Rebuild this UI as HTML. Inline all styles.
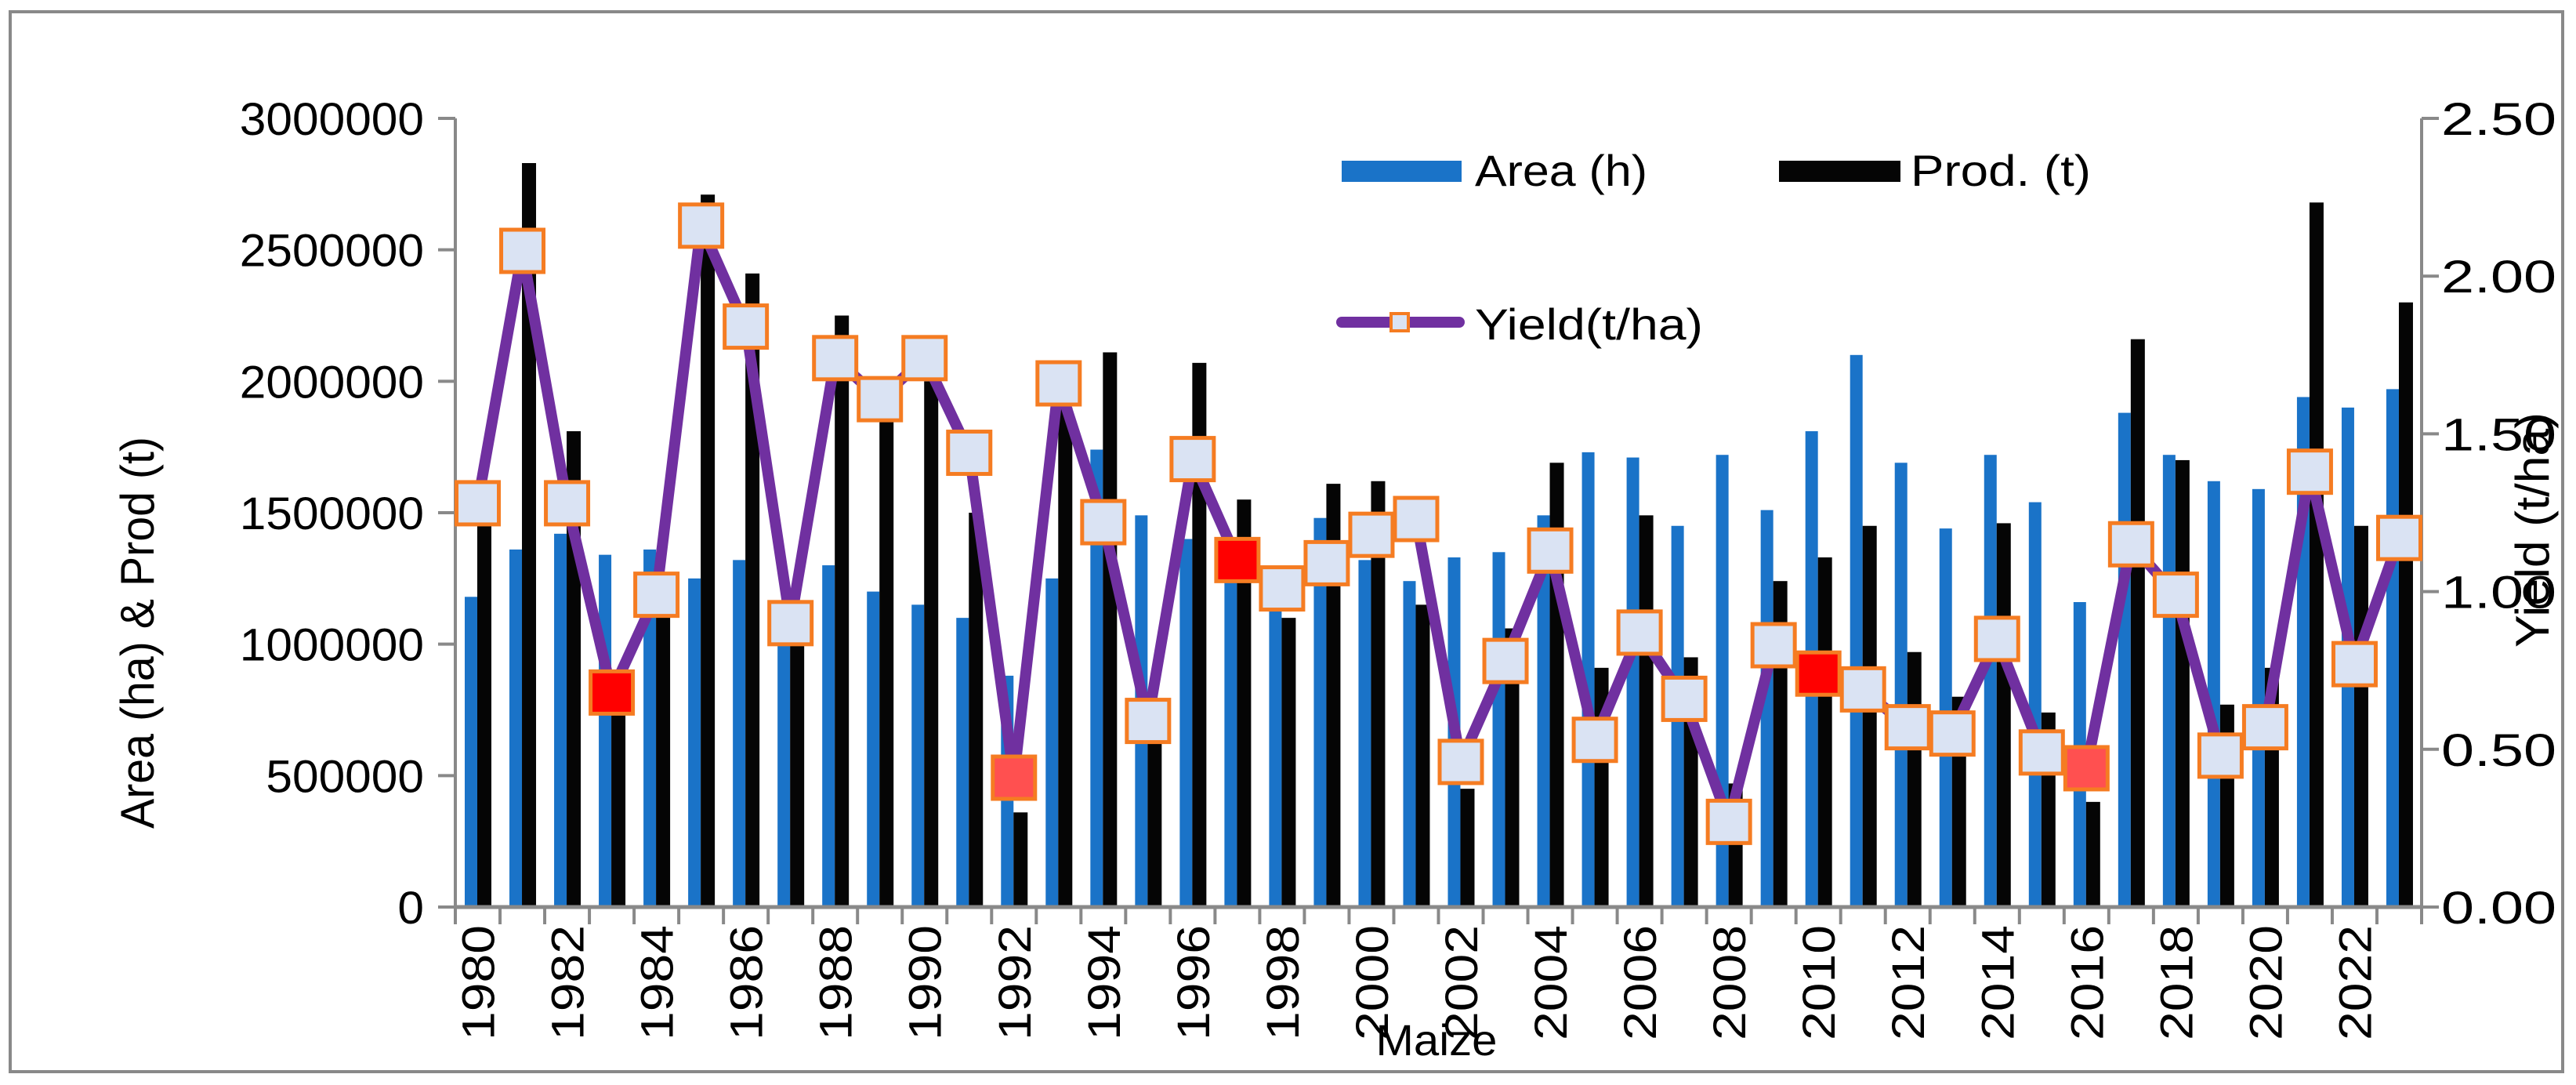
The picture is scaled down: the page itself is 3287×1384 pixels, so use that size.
<!DOCTYPE html>
<html><head><meta charset="utf-8"><style>
html,body{margin:0;padding:0;background:#fff;}
svg{display:block;font-family:"Liberation Sans",sans-serif;}
</style></head><body>
<svg id="chart" width="3287" height="1384" viewBox="0 0 3287 1384" xmlns="http://www.w3.org/2000/svg">
<rect x="13" y="15" width="3257" height="1352" fill="#fff" stroke="#898989" stroke-width="4"/>
<g id="bars"></g>
<g id="axes"></g>
<g id="line"></g>
<text transform="translate(196,807) rotate(-90)" text-anchor="middle" font-size="60" textLength="500" lengthAdjust="spacingAndGlyphs">Area (ha) &amp; Prod (t)</text>
<text transform="translate(3252,676) rotate(-90)" text-anchor="middle" font-size="60" textLength="300" lengthAdjust="spacingAndGlyphs">Yield (t/ha)</text>
<text x="1833" y="1346" text-anchor="middle" font-size="56" textLength="155" lengthAdjust="spacingAndGlyphs">Maize</text>
<g>
<rect x="1712" y="205" width="153" height="27" fill="#1a73c8"/>
<text x="1882" y="237" font-size="56" textLength="220" lengthAdjust="spacingAndGlyphs">Area (h)</text>
<rect x="2270" y="205" width="155" height="27" fill="#050505"/>
<text x="2438" y="237" font-size="56" textLength="230" lengthAdjust="spacingAndGlyphs">Prod. (t)</text>
<line x1="1712" y1="411" x2="1862" y2="411" stroke="#7030a0" stroke-width="14" stroke-linecap="round"/>
<rect x="1775" y="400" width="22" height="22" fill="#dae3f3" stroke="#f57c22" stroke-width="4"/>
<text x="1882" y="433" font-size="56" textLength="291" lengthAdjust="spacingAndGlyphs">Yield(t/ha)</text>
</g>
</svg>
<script>
const years = [1980,1981,1982,1983,1984,1985,1986,1987,1988,1989,1990,1991,1992,1993,1994,1995,1996,1997,1998,1999,2000,2001,2002,2003,2004,2005,2006,2007,2008,2009,2010,2011,2012,2013,2014,2015,2016,2017,2018,2019,2020,2021,2022,2023];
const area = [1180000,1360000,1420000,1340000,1360000,1250000,1320000,1050000,1300000,1200000,1150000,1100000,880000,1250000,1740000,1490000,1400000,1250000,1150000,1480000,1320000,1240000,1330000,1350000,1490000,1730000,1710000,1450000,1720000,1510000,1810000,2100000,1690000,1440000,1720000,1540000,1160000,1880000,1720000,1620000,1590000,1940000,1900000,1970000];
const prod = [1500000,2830000,1810000,800000,1150000,2710000,2410000,1050000,2250000,1930000,2000000,1500000,360000,1900000,2110000,700000,2070000,1550000,1100000,1610000,1620000,1150000,450000,1060000,1690000,910000,1490000,950000,470000,1240000,1330000,1450000,970000,800000,1460000,740000,400000,2160000,1700000,770000,910000,2680000,1450000,2300000];
const yieldV = [1.28,2.08,1.28,0.68,0.99,2.16,1.84,0.90,1.74,1.61,1.74,1.44,0.41,1.66,1.22,0.59,1.42,1.10,1.01,1.09,1.18,1.23,0.46,0.78,1.13,0.53,0.87,0.66,0.27,0.83,0.74,0.69,0.57,0.55,0.85,0.49,0.44,1.15,0.99,0.48,0.57,1.38,0.77,1.17];
const markerFill = {1983:'#ff0000',1997:'#ff0000',2010:'#ff0000',1992:'#ff5050',2016:'#ff5050'};
const leftTicks = [0,500000,1000000,1500000,2000000,2500000,3000000];
const rightTicks = ["0.00","0.50","1.00","1.50","2.00","2.50"];

const NS='http://www.w3.org/2000/svg';
const X0=581, X1=3090, Y0=1157, Y1=151;
const band=(X1-X0)/years.length;
const yL=v=>Y0-(v/3000000)*(Y0-Y1);
const yR=v=>Y0-(v/2.5)*(Y0-Y1);
const xB=i=>X0+i*band;
function mk(tag,attrs,parent){const e=document.createElementNS(NS,tag);for(const k in attrs)e.setAttribute(k,attrs[k]);parent.appendChild(e);return e;}
const gB=document.getElementById('bars'), gA=document.getElementById('axes'), gL=document.getElementById('line');

years.forEach((yr,i)=>{
  const a=mk('rect',{x:xB(i)+12,y:yL(area[i]),width:16,height:Y0-yL(area[i]),fill:'#1a73c8'},gB);
  
  
  const p=mk('rect',{x:xB(i)+28,y:yL(prod[i]),width:18,height:Y0-yL(prod[i]),fill:'#050505'},gB);
  
  
});

// axes
const axc='#898989';
let l=mk('line',{x1:X0,y1:Y1,x2:X0,y2:Y0,stroke:axc,'stroke-width':4},gA);


l=mk('line',{x1:X1,y1:Y1,x2:X1,y2:Y0,stroke:axc,'stroke-width':4},gA);


l=mk('line',{x1:X0,y1:Y0,x2:X1,y2:Y0,stroke:axc,'stroke-width':5},gA);


leftTicks.forEach(v=>{
  const t=mk('line',{x1:X0-22,y1:yL(v),x2:X0,y2:yL(v),stroke:axc,'stroke-width':4},gA);
  
  
  const s=String(v);
  const tx=mk('text',{x:541,y:yL(v)+21,'text-anchor':'end','font-size':58,textLength:s.length*33.6,lengthAdjust:'spacingAndGlyphs'},gA);
  tx.textContent=s;
  
  
});
rightTicks.forEach(s=>{
  const y=yR(parseFloat(s));
  const t=mk('line',{x1:X1,y1:y,x2:X1+22,y2:y,stroke:axc,'stroke-width':4},gA);
  
  
  const tx=mk('text',{x:3115,y:y+21,'font-size':58,textLength:147,lengthAdjust:'spacingAndGlyphs'},gA);
  tx.textContent=s;
  
  
});
for(let i=0;i<=years.length;i++){
  const t=mk('line',{x1:xB(i),y1:Y0,x2:xB(i),y2:Y0+22,stroke:axc,'stroke-width':4},gA);
  
  
}
years.forEach((yr,i)=>{
  if(i%2) return;
  const cx=xB(i)+band/2+1;
  const tx=mk('text',{transform:`translate(${cx+20},1180) rotate(-90)`,'text-anchor':'end','font-size':58,textLength:147,lengthAdjust:'spacingAndGlyphs'},gA);
  tx.textContent=String(yr);
  
  
});

// yield line
const pts=yieldV.map((v,i)=>(xB(i)+band/2)+','+yR(v)).join(' ');
const pl=mk('polyline',{points:pts,fill:'none',stroke:'#7030a0','stroke-width':14,'stroke-linejoin':'round'},gL);


yieldV.forEach((v,i)=>{
  const cx=xB(i)+band/2, cy=yR(v);
  const m=mk('rect',{x:cx-27,y:cy-27,width:54,height:54,fill:markerFill[years[i]]||'#dae3f3',stroke:'#f57c22','stroke-width':5},gL);
  
  
});
</script>
</body></html>
